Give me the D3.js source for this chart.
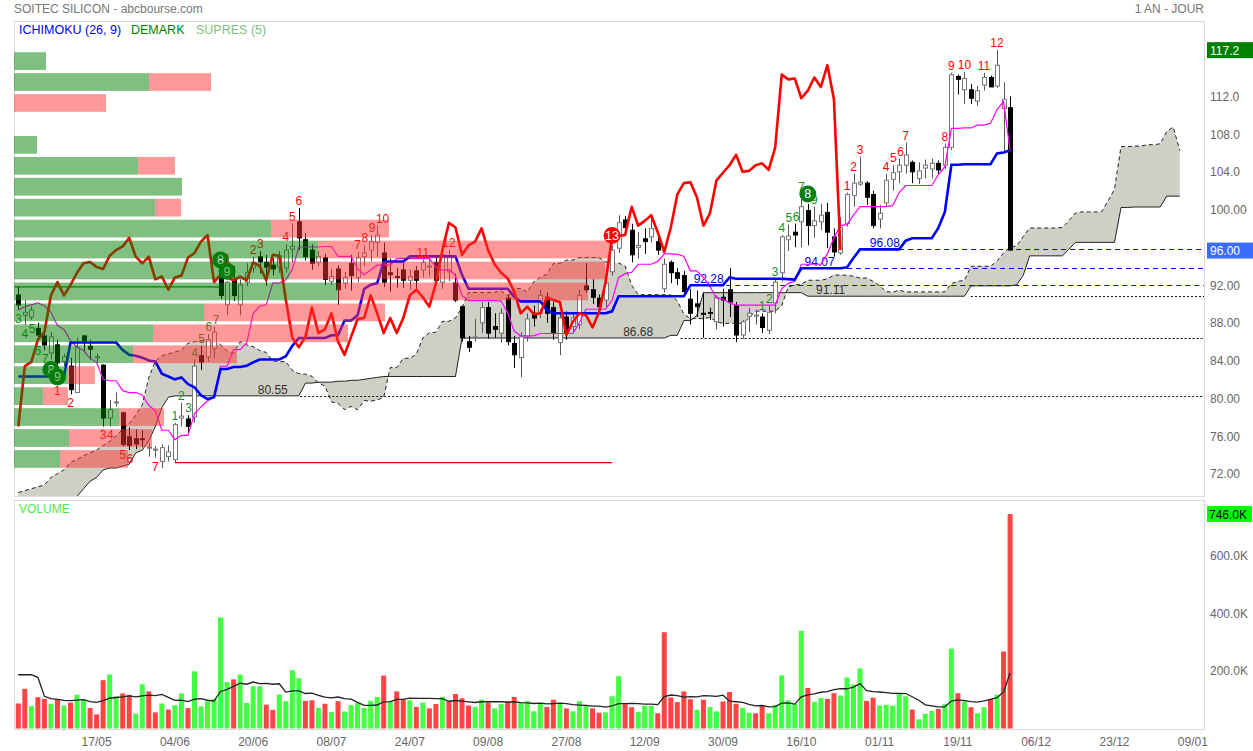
<!DOCTYPE html>
<html><head><meta charset="utf-8"><title>SOITEC SILICON</title>
<script src="https://cdn.jsdelivr.net/npm/d3@7/dist/d3.min.js"></script>
<style>html,body{margin:0;padding:0;background:#fff}svg{display:block}</style>
</head><body>
<svg id="chart" width="1253" height="751"></svg>
<script>
// ---------------- DATA ----------------
const opens = [91.24,89.1,88.9,87.7,86.9,85.1,85.95,84.2,83.7,80.9,
86.9,85.8,84.7,83.8,78.2,79.8,78.75,76.2,76.0,76.0,
75.0,74.8,73.6,74.1,73.8,78.2,78.1,78.3,84.8,84.7,
85.6,93.6,90.2,92.8,90.2,92.6,94.1,95.3,94.7,94.4,
94.2,94.1,96.1,99.0,97.1,96.0,94.7,95.2,92.7,94.0,
92.5,94.6,93.1,95.3,96.0,96.8,95.7,93.6,93.2,93.9,
92.8,93.8,93.9,94.3,94.7,92.6,93.7,92.5,90.0,86.3,
86.7,88.3,89.9,87.9,87.2,90.9,86.1,84.6,86.8,89.3,
89.3,91.0,89.9,86.2,88.9,87.9,88.1,92.2,91.8,90.9,
90.7,93.7,96.2,99.2,98.1,96.3,97.2,97.4,96.9,91.9,
94.7,93.6,93.3,90.8,90.3,89.3,89.4,88.4,91.0,91.8,
90.1,87.0,89.0,89.0,88.9,87.5,90.4,93.6,97.1,97.9,
99.0,100.2,98.6,99.0,100.0,97.4,95.7,98.8,101.8,103.0,
103.1,101.9,99.3,101.0,103.5,104.3,105.0,105.3,103.6,104.7,
104.6,105.2,105.0,106.9,114.4,113.0,113.0,111.8,113.5,114.3,
113.4,111.0,111.1];
const highs = [92.1,90.7,90.0,88.3,87.5,87.3,86.5,85.0,84.6,86.7,
87.0,86.5,85.0,83.9,80.1,80.9,78.9,77.2,77.0,76.9,
75.6,75.2,75.4,75.3,77.7,79.8,78.5,84.4,85.85,87.1,
87.9,93.9,92.7,94.3,92.9,94.6,95.3,95.9,95.5,95.1,
95.9,96.6,98.8,100.46,97.8,96.6,95.9,95.6,94.0,94.4,
93.7,95.5,95.8,96.5,97.6,98.6,96.8,95.1,94.1,94.8,
93.9,94.3,95.0,95.2,95.3,96.1,96.0,93.5,90.1,86.9,
88.7,90.5,90.5,89.3,89.8,91.3,86.9,87.3,89.3,90.1,
91.8,91.5,90.5,89.3,89.5,89.3,91.8,94.6,92.9,91.3,
93.5,96.5,99.7,99.6,98.8,97.9,98.3,99.5,97.6,95.1,
94.9,94.1,93.8,91.9,91.7,91.5,89.9,91.2,91.9,94.1,
90.5,88.6,89.9,89.7,89.3,90.1,92.9,97.6,98.7,98.8,
101.9,100.9,100.6,100.9,101.0,98.3,99.5,102.1,104.1,105.92,
103.3,102.3,100.8,104.1,105.0,105.7,107.4,105.5,105.3,105.6,
105.7,105.5,107.3,114.8,114.6,114.9,113.6,113.4,114.8,114.5,
117.2,113.8,112.3];
const lows = [89.65,88.1,88.6,86.3,85.4,84.4,83.6,83.7,80.7,80.9,
85.2,84.4,84.05,77.3,77.3,79.4,75.2,74.8,74.9,75.1,
74.1,74.0,72.9,73.6,73.47,77.3,76.6,77.7,83.3,84.2,
84.5,90.8,89.1,90.6,89.1,92.2,93.6,93.5,92.2,93.3,
93.6,93.6,94.7,96.0,94.9,93.9,94.3,92.3,92.3,90.2,
91.9,91.7,92.6,94.3,94.8,95.3,92.1,91.6,92.0,92.0,
91.8,91.8,93.1,93.2,92.3,91.9,92.7,90.5,86.3,85.2,
86.3,87.2,86.6,86.7,86.2,85.9,83.5,82.52,86.3,87.9,
88.8,88.3,86.5,84.86,86.5,87.3,87.6,91.5,90.3,89.3,
89.9,93.3,95.7,97.6,94.7,95.1,95.6,96.8,95.5,91.5,
92.5,92.3,91.2,88.1,88.9,86.7,88.6,87.6,87.9,88.9,
86.24,86.6,87.3,88.1,87.2,87.1,89.3,92.7,95.9,96.3,
96.3,96.5,97.3,98.1,96.2,95.3,95.5,98.5,100.6,102.8,
100.8,98.3,98.3,100.6,102.3,103.1,104.1,103.1,103.0,103.6,
103.6,104.0,104.6,106.6,112.5,111.5,111.5,111.3,112.9,113.3,
113.2,106.3,95.95];
const closes = [90.18,89.4,89.65,87.0,85.95,86.8,84.05,84.7,81.2,85.7,
86.2,85.5,84.7,78.2,79.1,79.9,75.4,75.3,75.45,75.9,
75.1,74.9,75.05,74.6,77.5,78.4,77.3,83.7,84.15,86.5,
87.3,91.2,92.6,91.2,92.3,93.6,94.6,94.75,94.2,94.0,
95.4,96.0,96.4,97.3,95.3,94.6,95.3,92.9,93.2,91.8,
93.1,93.3,95.2,95.7,96.9,97.6,92.6,93.4,93.1,92.8,
93.2,92.8,94.7,94.3,92.8,95.5,95.4,90.7,86.7,85.7,
86.8,89.9,87.2,87.6,89.3,86.3,84.9,86.8,88.7,88.8,
91.2,89.3,87.2,88.8,87.2,88.8,91.2,91.8,91.0,90.0,
92.5,96.0,98.9,98.4,95.5,96.5,96.9,98.3,96.0,94.5,
93.6,93.0,91.6,89.3,90.0,89.2,89.3,91.0,90.7,90.5,
87.0,88.4,89.3,89.1,87.8,89.4,92.6,97.4,97.5,97.6,
100.6,98.6,99.1,99.7,97.9,95.8,98.4,101.9,103.1,103.2,
101.6,98.6,99.9,103.4,104.2,105.0,106.1,104.3,104.4,105.0,
105.2,104.5,106.9,114.6,114.1,114.2,112.1,112.9,114.3,113.3,
115.6,112.0,96.0];
// volume in thousands of shares
const volumes = [87,138,78,109,103,86,101,80,90,118,
101,71,49,168,188,112,122,117,52,154,
129,56,87,66,81,122,71,199,77,95,
103,386,161,171,188,89,147,147,83,65,
118,95,203,175,96,98,72,86,57,95,
59,81,89,72,96,110,184,95,129,101,
98,75,90,70,85,110,95,120,105,80,
75,100,90,70,85,95,110,90,95,60,
85,75,100,85,70,60,95,80,70,55,
56,112,182,85,74,58,79,79,53,335,
108,92,129,102,65,100,75,60,94,127,
86,72,55,53,78,53,82,185,98,85,
340,141,93,106,103,123,115,178,153,209,
96,107,80,82,79,120,112,66,32,51,
61,68,85,278,123,94,74,53,74,103,
118,268,746];
const volUp = [0,0,1,0,0,1,0,1,0,1,
1,0,0,0,1,1,0,0,1,1,
0,0,1,0,1,1,0,1,1,1,
1,1,1,0,1,1,1,1,0,0,
1,1,1,1,0,0,1,0,1,0,
1,1,1,1,1,1,0,1,0,0,
1,0,1,0,0,1,0,0,0,0,
1,1,0,1,1,0,0,1,1,1,
1,0,0,1,0,1,1,1,0,0,
1,1,1,0,0,1,1,1,0,0,
0,0,0,0,1,0,1,1,0,0,
0,1,1,0,0,1,1,1,1,1,
1,0,1,1,0,0,1,1,1,1,
0,0,1,1,1,1,1,0,1,1,
1,0,1,1,0,1,0,1,1,0,
1,0,0];
// values read for the first bars (indicators need history before the chart starts)
const volMAPrior = [187,187,187,178,112,104,101,98,97];
const tenkanPrior = [89.65,90.0,90.2,90.4,90.1,89.4,88.0,87.6];
const kijunPrior = [82.6,82.6,82.6,82.6,82.6,82.6,82.6,82.6,
86.2,86.2,86.2,86.2,86.2,86.2,86.2,86.2,
85.4,84.9,84.8,84.6,84.3,84.2,82.9,82.6,82.3];
const spanAPrior = [70.3,70.5,70.7,70.9,71.1,71.9,72.3,72.7,73.5,73.8,
74.2,74.5,74.8,75.3,75.7,76.3,77.0,77.6,78.5,79.6,
82.5,84.2,84.8,85.0,85.2,85.4];
const spanBPrior = [69.3,69.3,69.3,69.3,69.3,69.3,69.3,69.3,69.3,
69.9,70.7,71.5,71.9,72.7,72.9,72.9,73.1,73.3,74.5,74.8,75.8,77.3,79.3,80.4,
80.55,80.55,80.55,80.55,80.55,80.55,80.55,80.55,80.55,80.55,
80.55,80.55,80.55,80.55,80.55,80.55,80.55,80.55,80.55,80.55,
81.9,81.9,82.0,82.0,82.0,82.1,82.1,82.2,82.2,82.3,82.4,82.5,82.6,
82.6,82.6,82.6,82.6,82.6,82.6,82.6,82.6,82.6,82.6,82.6,
86.68,86.68,86.68,86.68,86.68,86.68,86.68,86.68,86.68];
// SUPRES(5): volume at price, bins from top (highest) to bottom
const supresHigh = 117.15, supresLow = 72.75;
const supresUp   = [32,135,0,0,23,124,168,141,257,304,276,323,190,139,119,54,29,105,55,46];
const supresDown = [0,62,92,0,0,37,0,26,118,292,315,251,181,195,104,27,25,45,83,68];
// levels written on the chart
const kijunLevels = [92.28,94.07,96.08];
const kijunLevelFrom = [108.5,127,135];
const kijunLabelAt = [105.8,122.8,132.8];
const cloudLevels = [80.55,86.68,91.11];
const cloudLevelFrom = [43.2,101.5,146];
const cloudLabelAt = [39,95,124.5];
// DeMark counts
const dmBars  = [0,1,2,3,4,5,6, 6,8,13,14,16,17,21,
 24,25,26,27,28,29,30,31,32,
 32,36,37,41,42,43,52,53,54,55,62,66,91,
 114,115,116,117,118,119,120,121,122,
 127,128,129,133,134,135,136,142,143,145,148,150];
const dmTexts = ['3','4','5','6','7','8','9', '1','2','3','4','5','6','7',
 '1','2','3','4','5','6','7','8','9',
 '1','2','3','4','5','6','7','8','9','10','11','12','13',
 '1','2','3','4','5','6','7','8','9',
 '1','2','3','4','5','6','7','8','9','10','11','12'];
const dmKinds = ['g','g','g','g','g','G','G', 'r','r','r','r','r','r','r',
 'g','g','g','g','g','g','g','G','G',
 'r','r','r','r','r','r','r','r','r','r','r','r','R',
 'g','g','g','g','g','g','g','G','g',
 'r','r','r','r','r','r','r','r','r','r','r','r'];
const dmSides = ['b','b','b','b','b','b','b', 'b','b','b','b','b','b','b',
 'a','a','a','a','a','a','a','a','a',
 'a','a','a','a','a','a','a','a','a','a','a','a','a',
 'a','a','a','a','a','a','a','a','a',
 'a','a','a','a','a','a','a','a','a','a','a','a'];
// TD lines
const tdstGreen = {from:-0.6, to:31, bar:0};   // resistance at high of bar 0
const tdstRed = {from:24, to:91, bar:24};      // support at low of bar 24
// axes
const dateLabels = ['17/05','04/06','20/06','08/07','24/07','09/08','27/08','12/09','30/09','16/10','01/11','19/11','06/12','23/12','09/01'];
const dateIdx = [12,24,36,48,60,72,84,96,108,120,132,144,156,168,180];
const priceTicks = [72,76,80,84,88,92,100,104,108,112];
const priceTickLabels = ['72.00','76.00','80.00','84.00','88.00','92.00','100.00','104.0','108.0','112.0'];
const volTicks = [200,400,600];
const volTickLabels = ['200.0K','400.0K','600.0K'];
const lastClose = 96.00, maxHigh = 117.2, maxVol = 746;

// ---------------- CHART ----------------
const svg = d3.select('#chart').style('font-family','"Liberation Sans", Arial, Helvetica, sans-serif');
const PL=14, PR=1204, PT=21, PB=496, VT=500, VB=729;
const n = closes.length;
const x = d3.scaleLinear().domain([0,152]).range([18.3, 1010.1]);
const y = d3.scaleLinear().domain([69.93,120.29]).range([496,21]);
const yv = d3.scaleLinear().domain([0,794.8]).range([728.5,500]);

const hh = (i,len)=>d3.max(highs.slice(i-len+1,i+1));
const ll = (i,len)=>d3.min(lows.slice(i-len+1,i+1));
const tenkan = closes.map((c,i)=> i<8 ? tenkanPrior[i] : (hh(i,9)+ll(i,9))/2);
const kijun  = closes.map((c,i)=> i<25 ? kijunPrior[i] : (hh(i,26)+ll(i,26))/2);
const cloud = d3.range(n+26).map(d=>{
  const a = d<26 ? spanAPrior[d] : (tenkan[d-26]+kijun[d-26])/2;
  const b = d<77 ? spanBPrior[d] : (hh(d-26,52)+ll(d-26,52))/2;
  return {d,a,b};
});
const chikou = d3.range(n-26).map(i=>({i, v:closes[i+26]}));
const volMA = volumes.map((v,i)=> i<9 ? volMAPrior[i] : d3.mean(volumes.slice(i-9,i+1)));

const defs = svg.append('defs');
defs.append('clipPath').attr('id','clipMain').append('rect')
  .attr('x',PL).attr('y',PT).attr('width',PR-PL).attr('height',PB-PT);
defs.append('clipPath').attr('id','clipVol').append('rect')
  .attr('x',PL).attr('y',VT).attr('width',PR-PL).attr('height',VB-VT);

// header
svg.append('text').attr('x',14).attr('y',12.5).attr('font-size',12).attr('fill','#777').text('SOITEC SILICON - abcbourse.com');
svg.append('text').attr('x',1204).attr('y',12.5).attr('font-size',12).attr('fill','#777').attr('text-anchor','end').text('1 AN - JOUR');

// frames
svg.append('rect').attr('x',PL+0.5).attr('y',PT+0.5).attr('width',PR-PL).attr('height',PB-PT).attr('fill','none').attr('stroke','#d9d9d9');
svg.append('rect').attr('x',PL+0.5).attr('y',VT+0.5).attr('width',PR-PL).attr('height',VB-VT).attr('fill','none').attr('stroke','#d9d9d9');

const main = svg.append('g').attr('clip-path','url(#clipMain)');

// cloud
main.append('path').datum(cloud)
  .attr('d', d3.area().x(c=>x(c.d)).y0(c=>y(c.b)).y1(c=>y(c.a)))
  .attr('fill','#cfcfc5');
main.append('path').datum(cloud)
  .attr('d', d3.line().x(c=>x(c.d)).y(c=>y(c.a)))
  .attr('fill','none').attr('stroke','#222').attr('stroke-width',1).attr('stroke-dasharray','4,3');
main.append('path').datum(cloud)
  .attr('d', d3.line().x(c=>x(c.d)).y(c=>y(c.b)))
  .attr('fill','none').attr('stroke','#222').attr('stroke-width',1);

// level lines
cloudLevels.forEach((v,k)=>{
  main.append('line').attr('x1',x(cloudLevelFrom[k])).attr('x2',PR).attr('y1',Math.round(y(v))+0.5).attr('y2',Math.round(y(v))+0.5)
    .attr('stroke','#111').attr('stroke-width',1).attr('stroke-dasharray','2,2');
  main.append('text').attr('x',x(cloudLabelAt[k])).attr('y',y(v)-2).attr('text-anchor','middle')
    .attr('font-size',12).attr('fill','#333').text(v.toFixed(2));
});
kijunLevels.forEach((v,k)=>{
  main.append('line').attr('x1',x(kijunLevelFrom[k])).attr('x2',PR).attr('y1',Math.round(y(v))+0.5).attr('y2',Math.round(y(v))+0.5)
    .attr('stroke','#0000ee').attr('stroke-width',1).attr('stroke-dasharray','5,4');
  main.append('text').attr('x',x(kijunLabelAt[k])).attr('y',y(v)-2).attr('text-anchor','middle')
    .attr('font-size',12).attr('fill','#0000ee').text(v.toFixed(2));
});

// TDST lines
main.append('line').attr('x1',Math.max(PL,x(tdstGreen.from))).attr('x2',x(tdstGreen.to))
  .attr('y1',y(highs[tdstGreen.bar])).attr('y2',y(highs[tdstGreen.bar]))
  .attr('stroke','#008000').attr('stroke-width',1.2);
main.append('line').attr('x1',x(tdstRed.from)).attr('x2',x(tdstRed.to))
  .attr('y1',y(lows[tdstRed.bar])).attr('y2',y(lows[tdstRed.bar]))
  .attr('stroke','#e00000').attr('stroke-width',1.2);

// candles
const cg = main.append('g');
closes.forEach((c,i)=>{
  const o=opens[i], up = c>=o;
  const cx = Math.round(x(i))+0.5;
  cg.append('line').attr('x1',cx).attr('x2',cx).attr('y1',y(highs[i])).attr('y2',y(lows[i]))
    .attr('stroke', up?'#555':'#000').attr('stroke-width',1);
  const top = y(Math.max(o,c)), bot = y(Math.min(o,c));
  cg.append('rect').attr('x',cx-2).attr('y',top).attr('width',4).attr('height',Math.max(1,bot-top))
    .attr('fill', up?'#fff':'#000').attr('stroke', up?'#777':'#000').attr('stroke-width',1);
});

// ichimoku lines
main.append('path').datum(tenkan).attr('d', d3.line().x((v,i)=>x(i)).y(v=>y(v)))
  .attr('fill','none').attr('stroke','#ff00ff').attr('stroke-width',1.2);
main.append('path').datum(kijun).attr('d', d3.line().x((v,i)=>x(i)).y(v=>y(v)))
  .attr('fill','none').attr('stroke','#0000ff').attr('stroke-width',2.6);
main.append('path').datum(chikou).attr('d', d3.line().x(p=>x(p.i)).y(p=>y(p.v)))
  .attr('fill','none').attr('stroke','#ff0000').attr('stroke-width',2.6).attr('stroke-linejoin','round');

// DeMark
const stack = {};
const placed = [];   // boxes of plain number labels, to keep them from overlapping
const FS = 12;
dmBars.forEach((b,k)=>{
  const side = dmSides[k], kind = dmKinds[k];
  const key = b+side; const level = stack[key]||0; stack[key]=level+1;
  let cx = x(b);
  const circ = (kind==='G'||kind==='R');
  const col = (kind==='g'||kind==='G') ? '#14901e' : '#ff0000';
  if (circ) {
    const cy = side==='a' ? y(highs[b])-10-level*15 : y(lows[b])+10+level*15;
    main.append('circle').attr('cx',cx).attr('cy',cy).attr('r',8.5).attr('fill', kind==='G'?'#0a7d12':'#ff0000');
    main.append('text').attr('x',cx).attr('y',cy+4.3).attr('text-anchor','middle').attr('font-size',12.5)
      .attr('fill','#fff').text(dmTexts[k]);
  } else {
    const by = side==='a' ? y(highs[b])-3-level*15 : y(lows[b])+13+level*15;
    const w = 0.56*FS*dmTexts[k].length;
    const t = by-FS*0.92, bt = by+FS*0.24;
    placed.forEach(p=>{
      const vOverlap = !(t > p.b || bt < p.t);
      if (vOverlap && cx-w/2 < p.r+0.5 && cx+w/2 > p.l) cx = p.r+0.5+w/2;
    });
    placed.push({l:cx-w/2, r:cx+w/2, t:t, b:bt});
    main.append('text').attr('x',cx).attr('y',by).attr('text-anchor','middle').attr('font-size',FS)
      .attr('fill',col).text(dmTexts[k]);
  }
});

// SUPRES overlay
const nb = supresUp.length, step = (supresHigh-supresLow)/nb;
const sx = d3.scaleLinear().domain([0,600]).range([0,600]);
supresUp.forEach((u,k)=>{
  const top = y(supresHigh-k*step)+1.6, bot = y(supresHigh-(k+1)*step)-1.6;
  if (u>0) main.append('rect').attr('x',PL).attr('y',top).attr('width',sx(u)).attr('height',bot-top)
    .attr('fill','rgb(0,128,0)').attr('fill-opacity',0.5);
  const dn = supresDown[k];
  if (dn>0) main.append('rect').attr('x',PL+sx(u)).attr('y',top).attr('width',sx(dn)).attr('height',bot-top)
    .attr('fill','rgb(255,51,51)').attr('fill-opacity',0.5);
});

// legend
svg.append('text').attr('x',19).attr('y',33.5).attr('font-size',12.5).attr('fill','#0000ff').text('ICHIMOKU (26, 9)');
svg.append('text').attr('x',131).attr('y',33.5).attr('font-size',12.5).attr('fill','#008000').text('DEMARK');
svg.append('text').attr('x',196).attr('y',33.5).attr('font-size',12.5).attr('fill','#7fc07f').text('SUPRES (5)');

// price axis
priceTicks.forEach((p,k)=>{
  svg.append('text').attr('x',1210).attr('y',y(p)+1.8).attr('font-size',12).attr('fill','#666').text(priceTickLabels[k]);
});
svg.append('rect').attr('x',1207).attr('y',y(maxHigh)-8).attr('width',46).attr('height',16).attr('fill','#008000');
svg.append('text').attr('x',1210).attr('y',y(maxHigh)+4.5).attr('font-size',12).attr('fill','#fff').text(maxHigh.toFixed(1));
svg.append('rect').attr('x',1207).attr('y',y(lastClose)-7.5).attr('width',46).attr('height',16).attr('fill','#3c6cff');
svg.append('text').attr('x',1210).attr('y',y(lastClose)+5).attr('font-size',12).attr('fill','#fff').text(lastClose.toFixed(2));

// volume panel
const vg = svg.append('g').attr('clip-path','url(#clipVol)');
volumes.forEach((v,i)=>{
  vg.append('rect').attr('x',x(i)-2.5).attr('y',yv(v)).attr('width',5).attr('height',yv(0)-yv(v))
    .attr('fill', volUp[i]?'#44ff44':'#ff4444');
});
vg.append('path').datum(volMA).attr('d', d3.line().x((v,i)=>x(i)).y(v=>yv(v)))
  .attr('fill','none').attr('stroke','#222').attr('stroke-width',1.3);
svg.append('text').attr('x',19).attr('y',513).attr('font-size',12).attr('fill','#4de84d').text('VOLUME');
volTicks.forEach((t,k)=>{
  svg.append('text').attr('x',1210).attr('y',yv(t)+4).attr('font-size',12).attr('fill','#666').text(volTickLabels[k]);
});
svg.append('rect').attr('x',1207).attr('y',yv(maxVol)-8).attr('width',45).attr('height',16).attr('fill','#00ff00');
svg.append('text').attr('x',1209).attr('y',yv(maxVol)+4.5).attr('font-size',12).attr('fill','#000').text(maxVol.toFixed(1)+'K');

// date axis
dateLabels.forEach((d,k)=>{
  svg.append('text').attr('x',x(dateIdx[k])).attr('y',746).attr('text-anchor','middle').attr('font-size',12).attr('fill','#666').text(d);
});
</script>
</body></html>
